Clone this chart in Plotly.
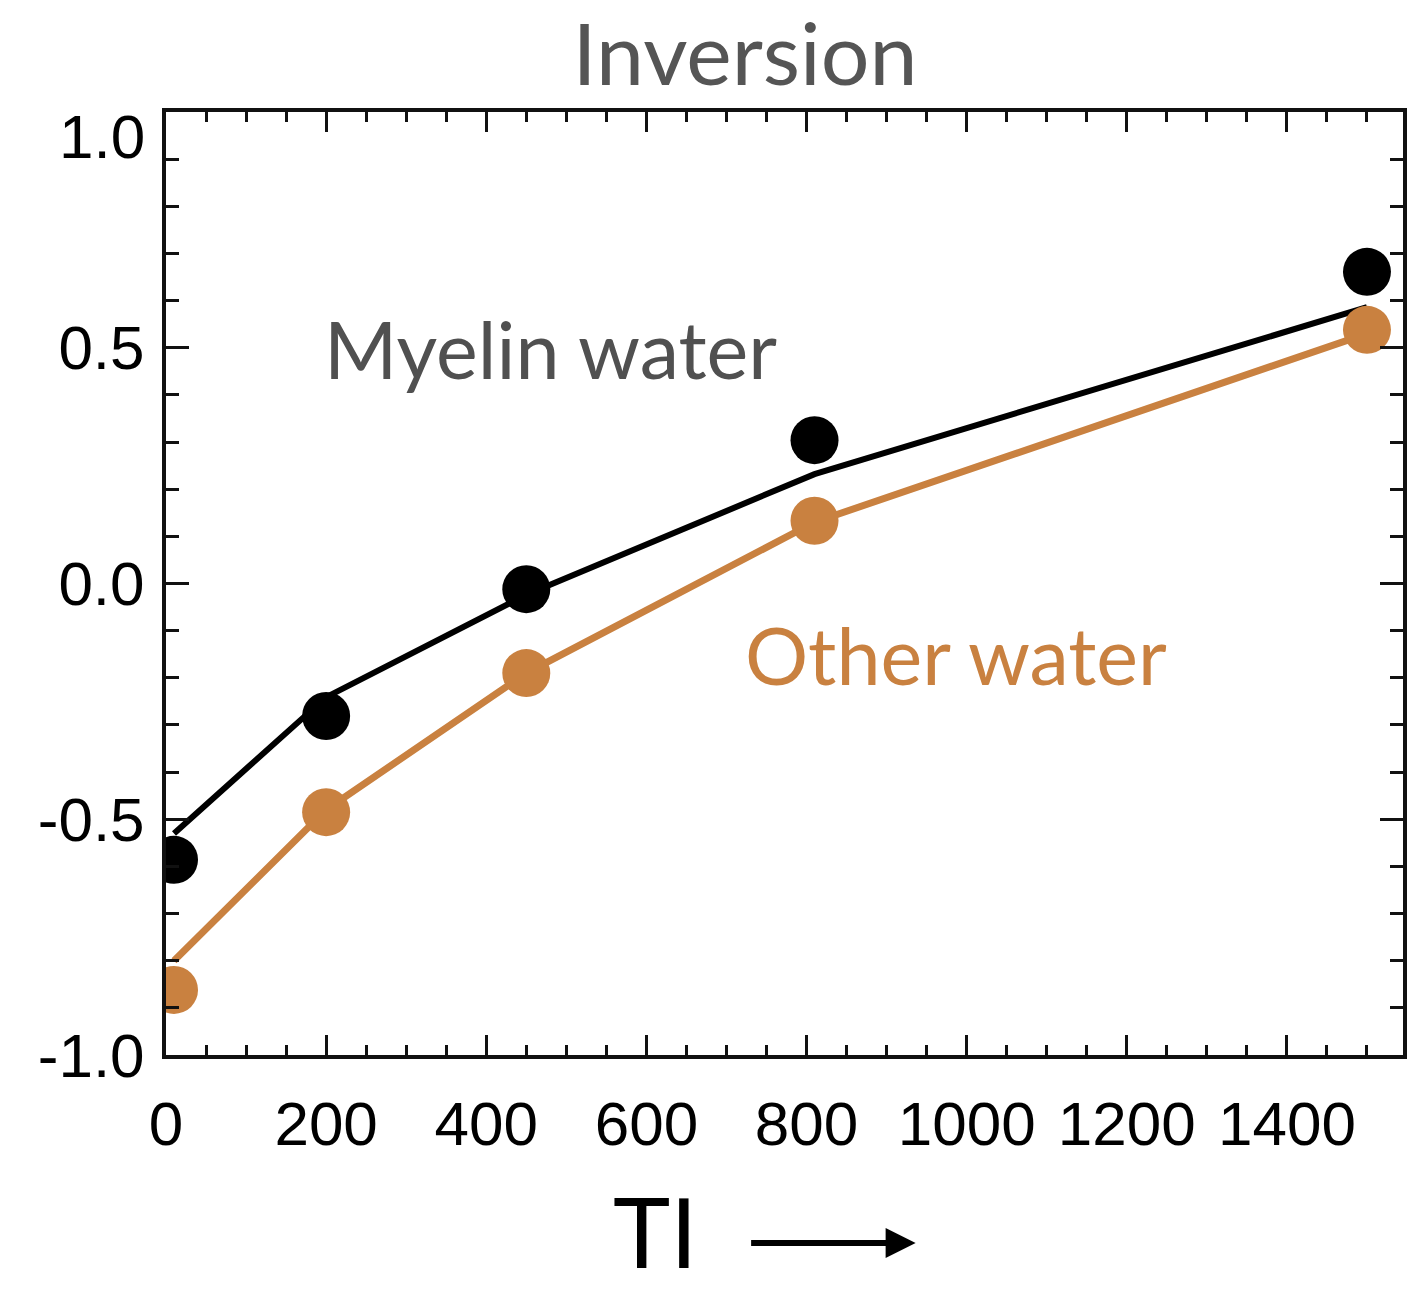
import plotly.graph_objects as go

# Data
ti_points = [10, 200, 450, 810, 1500]
myelin_points = [-0.586, -0.281, -0.012, 0.304, 0.661]
other_points = [-0.862, -0.485, -0.190, 0.133, 0.538]

ti_fit = [10, 200, 450, 810, 1500]
myelin_fit = [-0.53, -0.241, -0.024, 0.232, 0.586]
other_fit = [-0.80, -0.48, -0.19, 0.13, 0.53]

x_ticks = [0, 200, 400, 600, 800, 1000, 1200, 1400]
x_tick_labels = ["0", "200", "400", "600", "800", "1000", "1200", "1400"]
y_ticks = [-1.0, -0.5, 0.0, 0.5, 1.0]
y_tick_labels = ["-1.0", "-0.5", "0.0", "0.5", "1.0"]

BLACK = "#000000"
ORANGE = "#C98140"
GRAY = "#555555"
TICK_FONT = dict(family="Liberation Sans, Arial, sans-serif", size=62, color="#000000")

fig = go.Figure()

fig.add_trace(go.Scatter(x=ti_fit, y=myelin_fit, mode="lines",
                         line=dict(color=BLACK, width=6), showlegend=False))
fig.add_trace(go.Scatter(x=ti_fit, y=other_fit, mode="lines",
                         line=dict(color=ORANGE, width=7), showlegend=False))
fig.add_trace(go.Scatter(x=ti_points, y=myelin_points, mode="markers",
                         marker=dict(color=BLACK, size=48, line=dict(width=0)),
                         showlegend=False))
fig.add_trace(go.Scatter(x=ti_points, y=other_points, mode="markers",
                         marker=dict(color=ORANGE, size=48, line=dict(width=0)),
                         showlegend=False))

axis_common = dict(
    showline=True, linecolor="#111111", linewidth=4, mirror="ticks",
    ticks="inside", tickcolor="#111111", tickwidth=3,
    showgrid=False, zeroline=False,
    tickfont=TICK_FONT,
)

# the top y label sits lower than its tick in the reference; draw it separately
y_text_shown = [t if v != max(y_ticks) else "" for v, t in zip(y_ticks, y_tick_labels)]

fig.update_xaxes(
    **axis_common,
    range=[0, 1545],
    tickmode="array", tickvals=x_ticks, ticktext=x_tick_labels,
    ticklen=20,
    minor=dict(ticks="inside", ticklen=10, tickwidth=3, tickcolor="#111111", dtick=50, tick0=0),
    ticklabelstandoff=12,
)
fig.update_yaxes(
    **axis_common,
    range=[-1.0, 1.0],
    tickmode="array", tickvals=y_ticks, ticktext=y_text_shown,
    ticklen=23,
    minor=dict(ticks="inside", ticklen=13, tickwidth=3, tickcolor="#111111", dtick=0.1, tick0=0),
    ticklabelstandoff=5,
)

fig.add_annotation(text=y_tick_labels[-1], xref="paper", yref="y",
                   x=0, y=y_ticks[-1], xanchor="right", yanchor="middle",
                   xshift=-19, yshift=-24, showarrow=False, font=TICK_FONT)

fig.add_annotation(text="Myelin water", xref="paper", yref="paper",
                   x=0.1265, y=0.7497, xanchor="left", yanchor="middle",
                   showarrow=False,
                   font=dict(family="Lato, sans-serif", size=79, color="#505050"))
fig.add_annotation(text="Other water", xref="paper", yref="paper",
                   x=0.4666, y=0.4242, xanchor="left", yanchor="middle",
                   showarrow=False,
                   font=dict(family="Lato, sans-serif", size=79, color=ORANGE))
fig.add_annotation(text="TI", xref="paper", yref="paper",
                   x=0.3957, y=-0.2500, xanchor="center", yanchor="bottom",
                   showarrow=False,
                   font=dict(family="Lato, sans-serif", size=97, color="#000000"))
fig.add_annotation(text="", xref="paper", yref="paper",
                   x=0.606, y=-0.1994, ax=-166, ay=0, axref="pixel", ayref="pixel",
                   showarrow=True, arrowhead=2, arrowsize=1, arrowwidth=6,
                   arrowcolor="#000000", standoff=0, startstandoff=0)

fig.update_layout(
    width=1410, height=1292,
    margin=dict(l=166, r=3, t=112, b=237),
    paper_bgcolor="white", plot_bgcolor="white",
    title=dict(text="Inversion", x=745 / 1410, xanchor="center",
               y=1 - 55 / 1292, yanchor="middle",
               font=dict(family="Lato, sans-serif", size=86, color=GRAY)),
)

fig.write_html("out.html")
